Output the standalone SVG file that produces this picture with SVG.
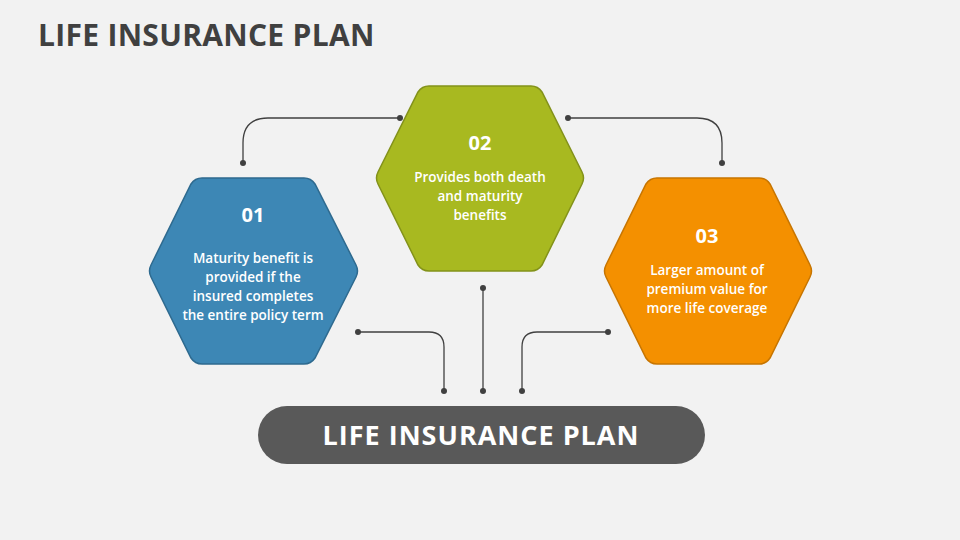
<svg xmlns="http://www.w3.org/2000/svg" width="960" height="540" viewBox="0 0 960 540">
<style>
.t{font-family:"Open Sans","Liberation Sans",sans-serif;fill:#fff;text-anchor:middle}
.n{font-size:20px;font-weight:bold}
.b{font-size:13.5px;font-weight:600}
.c{fill:none;stroke:#404040;stroke-width:1.3}
.d{fill:#404040}
</style>
<rect width="960" height="540" fill="#f2f2f2"/>
<text x="38" y="46" font-family="Open Sans,Liberation Sans,sans-serif" font-weight="bold" font-size="30" letter-spacing="0.3" fill="#404040">LIFE INSURANCE PLAN</text>
<g id="connectors">
<path class="c" d="M400 118H268Q243 118 243 143V163"/>
<path class="c" d="M568 118H697Q722 118 722 143V163"/>
<path class="c" d="M358 332H429Q444 332 444 347V391"/>
<path class="c" d="M483 288V391"/>
<path class="c" d="M608 332H537Q522 332 522 347V391"/>
<circle class="d" cx="400" cy="118" r="3"/><circle class="d" cx="243" cy="163" r="3"/>
<circle class="d" cx="568" cy="118" r="3"/><circle class="d" cx="722" cy="163" r="3"/>
<circle class="d" cx="358" cy="332" r="3"/><circle class="d" cx="444" cy="391" r="3"/>
<circle class="d" cx="483" cy="288" r="3"/><circle class="d" cx="483" cy="391" r="3"/>
<circle class="d" cx="608" cy="332" r="3"/><circle class="d" cx="522" cy="391" r="3"/>
</g>
<g id="node01">
<path d="M202 178H304Q311 178 315 184L356 265Q359 271 356 277L315 358Q311 364 304 364H202Q195 364 191 358L151 277Q148 271 151 265L191 184Q195 178 202 178Z" fill="#3d87b5" stroke="#2e6a8f" stroke-width="1.5"/>
<text class="t n" x="253" y="222">01</text>
<text class="t b"><tspan x="253" y="263">Maturity benefit is</tspan><tspan x="253" y="282">provided if the</tspan><tspan x="253" y="301">insured completes</tspan><tspan x="253" y="320">the entire policy term</tspan></text>
</g>
<g id="node02">
<path d="M429 86H531Q538 86 542 92L582 172Q585 178 582 184L542 265Q538 271 531 271H429Q422 271 418 265L378 184Q375 178 378 172L418 92Q422 86 429 86Z" fill="#a8b920" stroke="#83921a" stroke-width="1.5"/>
<text class="t n" x="480" y="150">02</text>
<text class="t b"><tspan x="480" y="182">Provides both death</tspan><tspan x="480" y="201">and maturity</tspan><tspan x="480" y="220">benefits</tspan></text>
</g>
<g id="node03">
<path d="M657 178H759Q766 178 770 184L810 265Q813 271 810 277L770 358Q766 364 759 364H657Q650 364 646 358L606 277Q603 271 606 265L646 184Q650 178 657 178Z" fill="#f49000" stroke="#c77500" stroke-width="1.5"/>
<text class="t n" x="707" y="243">03</text>
<text class="t b"><tspan x="707" y="275">Larger amount of</tspan><tspan x="707" y="294">premium value for</tspan><tspan x="707" y="313">more life coverage</tspan></text>
</g>
<g id="main">
<rect x="258" y="406" width="447" height="58" rx="29" fill="#595959"/>
<text class="t" x="481" y="445" font-size="27" font-weight="bold" letter-spacing="1">LIFE INSURANCE PLAN</text>
</g>
</svg>
